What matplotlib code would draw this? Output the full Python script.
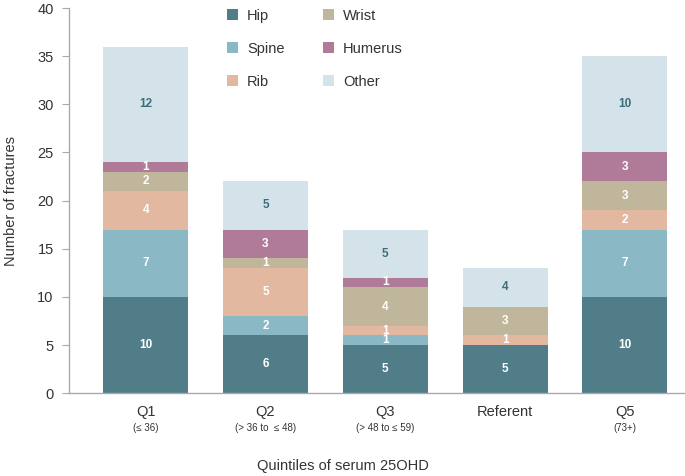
import matplotlib
matplotlib.use("Agg")
import matplotlib.pyplot as plt
import numpy as np

plt.rcParams['font.family'] = ['Liberation Sans', 'DejaVu Sans']

categories = ["Q1", "Q2", "Q3", "Referent", "Q5"]
sublabels = ["(≤ 36)", "(> 36 to  ≤ 48)", "(> 48 to ≤ 59)", "", "(73+)"]
series_names = ["Hip", "Spine", "Rib", "Wrist", "Humerus", "Other"]
hip = [10, 6, 5, 5, 10]
spine = [7, 2, 1, 0, 7]
rib = [4, 5, 1, 1, 2]
wrist = [2, 1, 4, 3, 3]
humerus = [1, 3, 1, 0, 3]
other = [12, 5, 5, 4, 10]
colors = ["#517d89", "#8bb8c5", "#e2b9a0", "#bfb69b", "#b07b98", "#d3e3e9"]
label_colors = ["white", "white", "white", "white", "white", "#3e6c7b"]

series = [hip, spine, rib, wrist, humerus, other]

fig = plt.figure(figsize=(6.85, 4.76), dpi=100)
ax = fig.add_axes([0.1007, 0.174, 0.899, 0.809])

x = np.arange(len(categories))
bottom = np.zeros(len(categories))
handles = []
for name, vals, c, lc in zip(series_names, series, colors, label_colors):
    vals = np.array(vals, dtype=float)
    b = ax.bar(x, vals, bottom=bottom, width=0.71, color=c, label=name, linewidth=0)
    handles.append(b)
    for xi, v, bo in zip(x, vals, bottom):
        if v > 0:
            ax.text(xi, bo + v / 2, f"{int(v)}", ha="center", va="center",
                    color=lc, fontsize=8.5, fontweight="bold")
    bottom += vals

ax.set_xlim(-0.64, 4.5)
ax.set_ylim(0, 40)
ax.set_yticks(range(0, 41, 5))
ax.tick_params(axis="y", labelsize=10.5, labelcolor="#333333", color="#aaaaaa",
               direction="out", length=5, width=0.8, pad=6)
ax.set_xticks(x)
ax.set_xticklabels([])
ax.tick_params(axis="x", length=0)
for xi, cat, sub in zip(x, categories, sublabels):
    ax.text(xi, -1.2, cat, ha="center", va="top", fontsize=10.5, color="#333333",
            clip_on=False)
    if sub:
        ax.text(xi, -3.1, sub, ha="center", va="top", fontsize=7, color="#333333",
                clip_on=False)

for s in ["top", "right"]:
    ax.spines[s].set_visible(False)
ax.spines["left"].set_color("#aaaaaa")
ax.spines["bottom"].set_color("#aaaaaa")
ax.spines["left"].set_linewidth(1.0)
ax.spines["bottom"].set_linewidth(1.0)

ax.set_ylabel("Number of fractures", fontsize=10.5, color="#333333", labelpad=14)
fig.text(0.5, 0.022, "Quintiles of serum 25OHD", ha="center", va="center",
         fontsize=10.5, color="#333333")

leg = ax.legend(handles=handles, labels=series_names, ncol=2, frameon=False,
                loc="upper left", bbox_to_anchor=(0.235, 1.032), fontsize=10.5,
                handlelength=0.8, handleheight=0.8, labelspacing=1.3,
                columnspacing=2.6, handletextpad=0.6)
for t in leg.get_texts():
    t.set_color("#333333")

fig.savefig("out.png", dpi=100)
